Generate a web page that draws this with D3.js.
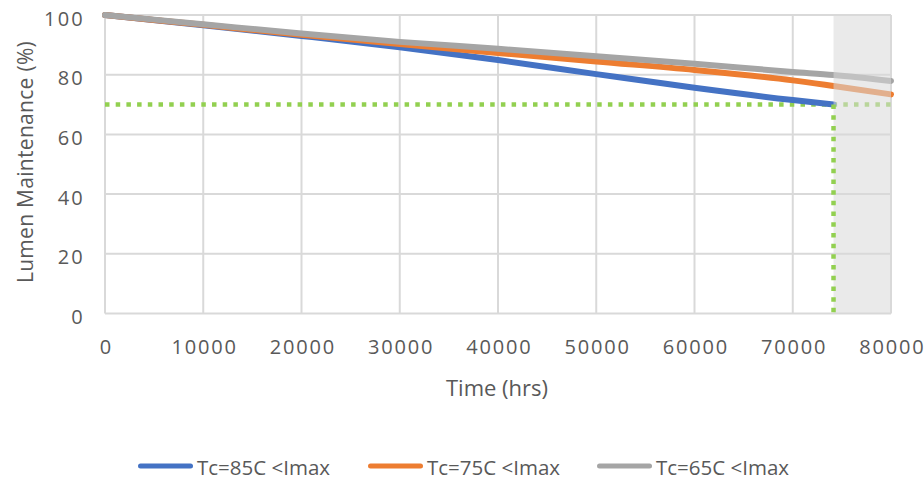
<!DOCTYPE html>
<html>
<head>
<meta charset="utf-8">
<script src="https://cdn.jsdelivr.net/npm/d3@7"></script>
<style>
  body { margin: 0; background: #fff; }
  svg text { font-family: "Open Sans", sans-serif; fill: #595959; }
</style>
</head>
<body>
<svg id="chart" width="924" height="480"></svg>
<script>
// values
const hours = [0, 10000, 20000, 30000, 40000, 50000, 60000, 70000, 74150, 80000];
const tc85 = [100, 96.6, 93.0, 89.2, 84.9, 80.2, 75.6, 71.5, 70.0];
const tc75 = [100, 96.7, 93.4, 90.3, 87.3, 84.4, 81.6, 78.1, 76.2, 73.4];
const tc65 = [100, 96.9, 93.8, 91.0, 88.7, 86.2, 83.7, 80.9, 79.9, 77.9];
const seriesNames = ['Tc=85C <Imax', 'Tc=75C <Imax', 'Tc=65C <Imax'];
const seriesColors = ['#4472c4', '#ed7d31', '#a5a5a5'];
const xTicks = [0, 10000, 20000, 30000, 40000, 50000, 60000, 70000, 80000];
const yTicks = [0, 20, 40, 60, 80, 100];
const l70Hours = 74150;
const l70Level = 70;

const svg = d3.select('#chart');
const x = d3.scaleLinear().domain([0, 80000]).range([105, 891]);
const y = d3.scaleLinear().domain([0, 100]).range([313.5, 15]);

// grid
const grid = svg.append('g').attr('stroke', '#d9d9d9').attr('stroke-width', 2);
grid.selectAll('.gx').data(xTicks).join('line')
  .attr('x1', d => x(d)).attr('x2', d => x(d))
  .attr('y1', y(0)).attr('y2', y(100));
grid.selectAll('.gy').data(yTicks).join('line')
  .attr('x1', x(0)).attr('x2', x(80000))
  .attr('y1', d => y(d)).attr('y2', d => y(d));

// tick labels
const xAxis = d3.axisBottom(x).tickValues(xTicks).tickSize(0).tickPadding(26.5).tickFormat(d3.format('d'));
svg.append('g').attr('transform', `translate(0,${y(0)})`).call(xAxis)
  .call(g => g.select('.domain').remove())
  .selectAll('text').attr('font-size', 20).attr('fill', '#595959')
  .attr('dx', '0.9px').style('letter-spacing', '1.8px');

const yAxis = d3.axisLeft(y).tickValues(yTicks).tickSize(0).tickPadding(20);
svg.append('g').attr('transform', `translate(${x(0)},0)`).call(yAxis)
  .call(g => g.select('.domain').remove())
  .selectAll('text').attr('font-size', 20).attr('fill', '#595959')
  .attr('dy', '0.5em').style('letter-spacing', '2.2px');

// L70 horizontal line
svg.append('line')
  .attr('x1', x(0)).attr('x2', x(80000))
  .attr('y1', y(l70Level)).attr('y2', y(l70Level))
  .attr('stroke', '#92d050').attr('stroke-width', 4.5)
  .attr('stroke-dasharray', '4.5 6.2');

// series
const line = d3.line().x((d, i) => x(hours[i])).y(d => y(d)).curve(d3.curveMonotoneX);
const seriesData = [tc85, tc75, tc65];
svg.append('g').selectAll('path').data(seriesData).join('path')
  .attr('d', d => line(d))
  .attr('fill', 'none')
  .attr('stroke', (d, i) => seriesColors[i])
  .attr('stroke-width', 6)
  .attr('stroke-linecap', 'round');

// shaded extrapolation region
svg.append('rect')
  .attr('x', x(l70Hours)).attr('y', y(100))
  .attr('width', x(80000) - x(l70Hours)).attr('height', y(0) - y(100))
  .attr('fill', '#d9d9d9').attr('fill-opacity', 0.55);

// L70 vertical line
svg.append('line')
  .attr('x1', x(l70Hours)).attr('x2', x(l70Hours))
  .attr('y1', y(l70Level)).attr('y2', y(0))
  .attr('stroke', '#92d050').attr('stroke-width', 4.5)
  .attr('stroke-dasharray', '4.5 6.2');

// axis titles
svg.append('text')
  .attr('x', 497).attr('y', 396)
  .attr('text-anchor', 'middle').attr('font-size', 22)
  .text('Time (hrs)');
svg.append('text')
  .attr('transform', 'translate(33,162) rotate(-90)')
  .attr('text-anchor', 'middle').attr('font-size', 21)
  .style('letter-spacing', '0.3px')
  .text('Lumen Maintenance (%)');

// legend
const legendX = [138, 368, 597];
const legend = svg.append('g').selectAll('g').data(seriesNames).join('g')
  .attr('transform', (d, i) => `translate(${legendX[i]},466)`);
legend.append('line')
  .attr('x1', 2.5).attr('x2', 52.5)
  .attr('stroke', (d, i) => seriesColors[i]).attr('stroke-width', 5)
  .attr('stroke-linecap', 'round');
legend.append('text')
  .attr('x', 59).attr('y', 9)
  .attr('font-size', 20.5)
  .text(d => d);
</script>
</body>
</html>
